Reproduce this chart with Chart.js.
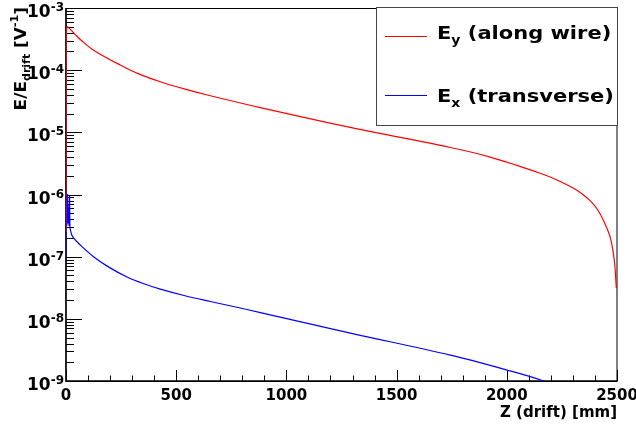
<!DOCTYPE html>
<html><head><meta charset="utf-8">
<script src="https://cdn.jsdelivr.net/npm/chart.js@4"></script>
<style>html,body{margin:0;padding:0;background:#fff;} #wrap{width:636px;height:425px;}</style>
</head><body><div id="wrap"><canvas id="c" width="636" height="425"></canvas></div>
<script>
// ---- data ----
const zEy = [0, 1, 3, 7, 40, 70, 125, 246, 330, 428, 540, 655, 882, 1290, 1744, 1925, 2152, 2228, 2303, 2341, 2379, 2409, 2439, 2470, 2488, 2497];
const eyValues = [2.5e-7, 3.0e-4, 4.6e-4, 5.0e-4, 3.8e-4, 3.0e-4, 2.1e-4, 1.21e-4, 8.7e-5, 6.5e-5, 4.95e-5, 3.88e-5, 2.5e-5, 1.2e-5, 5.7e-6, 4.0e-6, 2.2e-6, 1.71e-6, 1.26e-6, 1.03e-6, 7.9e-7, 5.9e-7, 3.8e-7, 2.0e-7, 8.5e-8, 3.1e-8];
const zEx = [0, 1, 2, 3, 4, 5, 6, 7, 8, 9, 10, 12, 14, 16, 18, 20, 25, 34, 60, 125, 200, 277, 350, 428, 540, 655, 770, 882, 1290, 1744, 2001, 2167, 2200];
const exValues = [1e-7, 6e-7, 3e-7, 8e-7, 3.2e-7, 9e-7, 3.5e-7, 1.0e-6, 3.8e-7, 7e-7, 3.5e-7, 6e-7, 3.2e-7, 9.5e-7, 3.0e-7, 2.7e-7, 2.3e-7, 2.0e-7, 1.6e-7, 1.0e-7, 6.6e-8, 4.7e-8, 3.7e-8, 3.0e-8, 2.35e-8, 1.9e-8, 1.55e-8, 1.26e-8, 5.9e-9, 2.6e-9, 1.5e-9, 1.0e-9, 8.5e-10];
const xTickValues = [0, 500, 1000, 1500, 2000, 2500];
const xMinorValues = [100,200,300,400,600,700,800,900,1100,1200,1300,1400,1600,1700,1800,1900,2100,2200,2300,2400];
const yDecadeExponents = [-9, -8, -7, -6, -5, -4, -3];
const seriesLabels = [["E", "y", " (along wire)"], ["E", "x", " (transverse)"]];
const xTitle = "Z (drift) [mm]";
const yTitleParts = ["E/E", "drift", " [V", "-1", "]"];

const FONT = '"DejaVu Sans", sans-serif';
const seriesColors = ['#ff0000', '#0000ff'];

const rootAxes = {
  id: 'rootAxes',
  beforeDatasetsDraw(chart) {
    const {ctx, chartArea: a, scales: {x, y}} = chart;
    ctx.save();
    ctx.strokeStyle = '#000';
    ctx.lineWidth = 1;
    ctx.strokeRect(a.left, a.top + 0.5, a.right - a.left, a.bottom - a.top);
    ctx.lineWidth = 1.4;
    ctx.beginPath();
    ctx.moveTo(a.left, a.top); ctx.lineTo(a.left, a.bottom);
    ctx.lineTo(a.right, a.bottom);
    ctx.stroke();
    ctx.lineWidth = 1;
    ctx.beginPath();
    yDecadeExponents.forEach((e, i) => {
      const py = Math.round(y.getPixelForValue(Math.pow(10, e))) + 0.5;
      ctx.moveTo(a.left, py); ctx.lineTo(a.left + 16, py);
      if (i < yDecadeExponents.length - 1) {
        for (let k = 2; k <= 9; k++) {
          const pm = Math.round(y.getPixelForValue(k * Math.pow(10, e))) + 0.5;
          ctx.moveTo(a.left, pm); ctx.lineTo(a.left + 8, pm);
        }
      }
    });
    xTickValues.forEach(v => {
      const px = Math.round(x.getPixelForValue(v)) + 0.5;
      ctx.moveTo(px, a.bottom); ctx.lineTo(px, a.bottom - 11);
    });
    xMinorValues.forEach(v => {
      const px = Math.round(x.getPixelForValue(v)) + 0.5;
      ctx.moveTo(px, a.bottom); ctx.lineTo(px, a.bottom - 5.5);
    });
    ctx.stroke();

    ctx.fillStyle = '#000';
    yDecadeExponents.forEach(e => {
      const py = y.getPixelForValue(Math.pow(10, e));
      ctx.textAlign = 'right';
      ctx.textBaseline = 'alphabetic';
      ctx.font = 'bold 12px ' + FONT;
      const es = '-' + Math.abs(e);
      const ew = ctx.measureText(es).width;
      ctx.fillText(es, 64, py + 3);
      ctx.font = 'bold 17px ' + FONT;
      ctx.fillText('10', 64 - ew, py + 9);
    });
    ctx.font = 'bold 15px ' + FONT;
    ctx.textAlign = 'center';
    xTickValues.forEach(v => {
      ctx.fillText(String(v), x.getPixelForValue(v), 399.5);
    });
    ctx.textAlign = 'right';
    ctx.fillText(xTitle, a.right, 417);

    ctx.save();
    ctx.translate(25.5, 7);
    ctx.rotate(-Math.PI / 2);
    ctx.scale(1, 0.88);
    ctx.textAlign = 'left';
    const fonts = ['bold 17px ', 'bold 11px ', 'bold 17px ', 'bold 11px ', 'bold 17px '];
    const offs = [0, 5, 0, -8, 0];
    let widths = yTitleParts.map((t, i) => { ctx.font = fonts[i] + FONT; return ctx.measureText(t).width; });
    let total = widths.reduce((s, w) => s + w, 0);
    let cx = -total;
    yTitleParts.forEach((t, i) => {
      ctx.font = fonts[i] + FONT;
      ctx.fillText(t, cx, offs[i]);
      cx += widths[i];
    });
    ctx.restore();
    ctx.restore();
  },
  afterDraw(chart) {
    const {ctx} = chart;
    ctx.save();
    ctx.fillStyle = '#fff';
    ctx.fillRect(376, 7, 242, 119);
    ctx.strokeStyle = '#444';
    ctx.lineWidth = 1;
    ctx.strokeRect(376.5, 7.5, 241, 118);
    const lineYs = [36.5, 95.5];
    const baseYs = [38.5, 102];
    seriesLabels.forEach((parts, i) => {
      ctx.strokeStyle = seriesColors[i];
      ctx.lineWidth = 1;
      ctx.beginPath();
      ctx.moveTo(385, lineYs[i]); ctx.lineTo(427, lineYs[i]);
      ctx.stroke();
      ctx.fillStyle = '#000';
      ctx.textAlign = 'left';
      let cx = 437;
      const sizes = [21, 14, 21];
      const offs = [0, 5, 0];
      parts.forEach((t, j) => {
        ctx.save();
        ctx.translate(cx, baseYs[i] + offs[j]);
        ctx.scale(1, 0.88);
        ctx.font = 'bold ' + sizes[j] + 'px ' + FONT;
        ctx.fillText(t, 0, 0);
        const w = ctx.measureText(t).width;
        ctx.restore();
        cx += w;
      });
    });
    ctx.restore();
  }
};

new Chart(document.getElementById('c'), {
  type: 'line',
  data: {
    datasets: [
      {label: 'E_y (along wire)', data: zEy.map((z, i) => ({x: z, y: eyValues[i]})),
       borderColor: seriesColors[0], borderWidth: 1.2, pointRadius: 0, fill: false, tension: 0.35},
      {label: 'E_x (transverse)', data: zEx.map((z, i) => ({x: z, y: exValues[i]})),
       borderColor: seriesColors[1], borderWidth: 1.2, pointRadius: 0, fill: false, tension: 0.35}
    ]
  },
  options: {
    responsive: false, animation: false, devicePixelRatio: 1,
    layout: {padding: {left: 66, right: 19, top: 8, bottom: 44}},
    plugins: {legend: {display: false}, tooltip: {enabled: false}},
    scales: {
      x: {type: 'linear', min: 0, max: 2500, display: false},
      y: {type: 'logarithmic', min: 1e-9, max: 1e-3, display: false}
    }
  },
  plugins: [rootAxes]
});
</script>
</body></html>
